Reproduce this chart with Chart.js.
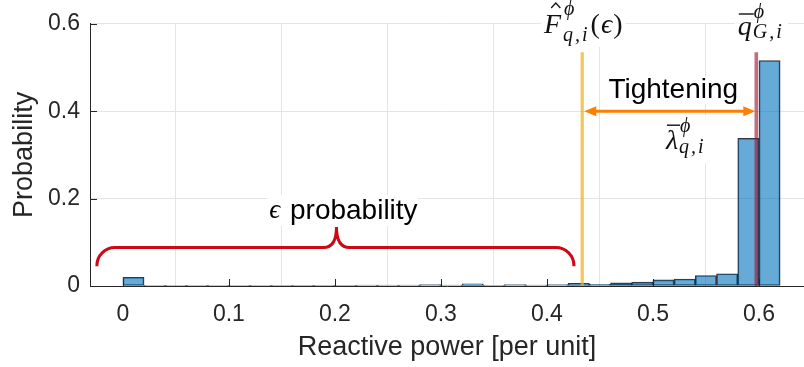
<!DOCTYPE html>
<html>
<head>
<meta charset="utf-8">
<title>Reactive power histogram</title>
<script src="https://cdn.jsdelivr.net/npm/chart.js@4.4.0/dist/chart.umd.min.js"></script>
<style>
  html, body { margin: 0; padding: 0; background: #fff; }
  #wrap { width: 804px; height: 367px; }
</style>
</head>
<body>
<div id="wrap"><canvas id="histChart" width="804" height="367"></canvas></div>
<script>
// histogram bins (centre of each 0.02 wide bin) and their probabilities
var binCenters = [0.01, 0.03, 0.05, 0.07, 0.09, 0.11, 0.13, 0.15, 0.17, 0.19,
                  0.21, 0.23, 0.25, 0.27, 0.29, 0.31, 0.33, 0.35, 0.37, 0.39,
                  0.41, 0.43, 0.45, 0.47, 0.49, 0.51, 0.53, 0.55, 0.57, 0.59, 0.61];
var probabilities = [0.020, 0.0005, 0.0005, 0.0005, 0.0005, 0.0005, 0.0005, 0.001, 0.001, 0.001,
                     0.001, 0.002, 0.002, 0.002, 0.003, 0.002, 0.005, 0.001, 0.003, 0.002,
                     0.003, 0.006, 0.004, 0.007, 0.009, 0.014, 0.016, 0.024, 0.028, 0.338, 0.516];

var xTicks = [0, 0.1, 0.2, 0.3, 0.4, 0.5, 0.6];
var yTicks = [0, 0.2, 0.4, 0.6];

// annotation values (data units)
var quantileValue = 0.4333;   // F hat (epsilon)
var limitValue = 0.5975;      // q bar
var markerTop = 0.535;
var arrowLevel = 0.4;
var braceStart = -0.0245;
var braceEnd = 0.4255;
var braceMid = 0.2015;
var braceLevel = 0.088;
var braceFoot = 0.045;
var braceTip = 0.135;

var SANS = '"Liberation Sans", Arial, Helvetica, sans-serif';
var SERIF = '"Liberation Serif", "DejaVu Serif", serif';
var axisColor = '#262626';

function mathFont(p) {
  return (p.italic ? 'italic ' : '') + p.size + 'px ' + SERIF;
}

// draws a small formula made of pieces, centred on cx
function drawMath(ctx, cx, baseY, parts) {
  var total = 0;
  parts.forEach(function (p) {
    if (p.sup !== undefined) {
      ctx.font = 'italic ' + p.size + 'px ' + SERIF;
      ctx.letterSpacing = '2px';
      p.w = Math.max(ctx.measureText(p.sup).width, ctx.measureText(p.sub).width) + 1;
      ctx.letterSpacing = '0px';
    } else {
      ctx.font = mathFont(p);
      p.w = ctx.measureText(p.t).width + (p.pad || 0);
    }
    total += p.w;
  });
  var x = cx - total / 2;
  ctx.fillStyle = '#fff';
  ctx.fillRect(x - 3, baseY - 34, total + 6, 48);
  ctx.fillStyle = '#111';
  ctx.strokeStyle = '#111';
  ctx.textBaseline = 'alphabetic';
  ctx.textAlign = 'left';
  parts.forEach(function (p) {
    if (p.sup !== undefined) {
      ctx.font = 'italic ' + p.size + 'px ' + SERIF;
      ctx.letterSpacing = '2px';
      ctx.fillText(p.sup, x + 1, baseY + p.supDy);
      ctx.fillText(p.sub, x, baseY + p.subDy);
      ctx.letterSpacing = '0px';
    } else {
      ctx.font = mathFont(p);
      ctx.fillText(p.t, x, baseY);
      if (p.accent === 'hat') {
        ctx.lineWidth = 1.3;
        ctx.beginPath();
        ctx.moveTo(x + p.w * 0.38, baseY - 25);
        ctx.lineTo(x + p.w * 0.62, baseY - 30);
        ctx.lineTo(x + p.w * 0.86, baseY - 25);
        ctx.stroke();
      } else if (p.accent === 'bar') {
        ctx.lineWidth = 1.4;
        ctx.beginPath();
        ctx.moveTo(x + 1, baseY - p.barUp);
        ctx.lineTo(x + p.w + 1, baseY - p.barUp);
        ctx.stroke();
      }
    }
    x += p.w;
  });
}

var annotationPlugin = {
  id: 'annotations',
  afterDatasetsDraw: function (chart) {
    var ctx = chart.ctx;
    var xs = chart.scales.x;
    var ys = chart.scales.y;
    var area = chart.chartArea;
    ctx.save();

    // inward ticks (matlab style)
    ctx.strokeStyle = axisColor;
    ctx.lineWidth = 1;
    yTicks.forEach(function (v) {
      var py = Math.round(ys.getPixelForValue(v)) + 0.5;
      ctx.beginPath();
      ctx.moveTo(area.left, py);
      ctx.lineTo(area.left + 7, py);
      ctx.stroke();
    });
    xTicks.forEach(function (v) {
      var px = Math.round(xs.getPixelForValue(v)) + 0.5;
      ctx.beginPath();
      ctx.moveTo(px, area.bottom);
      ctx.lineTo(px, area.bottom - 7);
      ctx.stroke();
    });

    var xq = xs.getPixelForValue(quantileValue);
    var xl = xs.getPixelForValue(limitValue);
    var yTop = ys.getPixelForValue(markerTop);
    var y0 = ys.getPixelForValue(0);

    // vertical markers
    ctx.lineWidth = 3.3;
    ctx.strokeStyle = 'rgba(237,177,32,0.72)';
    ctx.beginPath();
    ctx.moveTo(xq, yTop);
    ctx.lineTo(xq, y0);
    ctx.stroke();
    ctx.lineWidth = 3.6;
    ctx.strokeStyle = 'rgba(162,20,47,0.62)';
    ctx.beginPath();
    ctx.moveTo(xl, yTop);
    ctx.lineTo(xl, y0);
    ctx.stroke();

    // double arrow "Tightening"
    var ya = ys.getPixelForValue(arrowLevel);
    var head = 12, half = 5;
    ctx.strokeStyle = '#ff8000';
    ctx.fillStyle = '#ff8000';
    ctx.lineWidth = 3;
    ctx.beginPath();
    ctx.moveTo(xq + head, ya);
    ctx.lineTo(xl - head + 1, ya);
    ctx.stroke();
    ctx.beginPath();
    ctx.moveTo(xq + 2, ya);
    ctx.lineTo(xq + 2 + head, ya - half);
    ctx.lineTo(xq + 2 + head, ya + half);
    ctx.closePath();
    ctx.fill();
    ctx.beginPath();
    ctx.moveTo(xl - 1, ya);
    ctx.lineTo(xl - 1 - head, ya - half);
    ctx.lineTo(xl - 1 - head, ya + half);
    ctx.closePath();
    ctx.fill();

    // brace under "epsilon probability"
    var bx0 = xs.getPixelForValue(braceStart);
    var bx1 = xs.getPixelForValue(braceEnd);
    var bxm = xs.getPixelForValue(braceMid);
    var by = ys.getPixelForValue(braceLevel);
    var bf = ys.getPixelForValue(braceFoot);
    var bt = ys.getPixelForValue(braceTip);
    var r = 18;
    ctx.strokeStyle = '#cc0a14';
    ctx.lineWidth = 3;
    ctx.beginPath();
    ctx.moveTo(bx0, bf);
    ctx.arcTo(bx0, by, bx0 + r, by, r);
    ctx.lineTo(bxm - 13, by);
    ctx.bezierCurveTo(bxm - 4, by, bxm, by - 8, bxm, bt);
    ctx.bezierCurveTo(bxm, by - 8, bxm + 4, by, bxm + 13, by);
    ctx.lineTo(bx1 - r, by);
    ctx.arcTo(bx1, by, bx1, bf, r);
    ctx.lineTo(bx1, bf);
    ctx.stroke();

    // text labels with white boxes
    ctx.textAlign = 'center';
    ctx.textBaseline = 'alphabetic';
    ctx.font = '28px ' + SANS;
    var tx = (xq + xl) / 2 + 4;
    var tw = ctx.measureText('Tightening').width;
    ctx.fillStyle = '#fff';
    ctx.fillRect(tx - tw / 2 - 2, ya - 35, tw + 4, 28);
    ctx.fillStyle = '#000';
    ctx.fillText('Tightening', tx, ya - 13);

    // epsilon probability
    ctx.textAlign = 'left';
    ctx.font = '28px ' + SANS;
    var pw = ctx.measureText(' probability').width;
    ctx.font = 'italic 27px ' + SERIF;
    var ew = ctx.measureText('\u03f5').width;
    var sx = bxm + 6 - (pw + ew) / 2;
    var sy = bt - 8;
    ctx.fillStyle = '#fff';
    ctx.fillRect(sx - 2, sy - 24, pw + ew + 4, 31);
    ctx.fillStyle = '#000';
    ctx.fillText('\u03f5', sx, sy - 1);
    ctx.font = '28px ' + SANS;
    ctx.fillText(' probability', sx + ew + 2, sy);

    // F hat label over the yellow line
    drawMath(ctx, xq + 1, 33, [
      {t: 'F', size: 28, italic: true, accent: 'hat', pad: 2},
      {sup: '\u03d5', sub: 'q,i', size: 20, supDy: -18, subDy: 8},
      {t: '(', size: 28, pad: 1},
      {t: '\u03f5', size: 28, italic: true, pad: 1},
      {t: ')', size: 28}
    ]);
    // q bar label over the red line
    drawMath(ctx, xl + 5, 35, [
      {t: 'q', size: 28, italic: true, accent: 'bar', barUp: 21, pad: 1},
      {sup: '\u03d5', sub: 'G,i', size: 20, supDy: -17, subDy: 3}
    ]);
    // lambda bar label below the arrow
    drawMath(ctx, (xq + xl) / 2 + 17, ya + 38, [
      {t: '\u03bb', size: 28, italic: true, accent: 'bar', barUp: 24, pad: 1},
      {sup: '\u03d5', sub: 'q,i', size: 20, supDy: -17, subDy: 4}
    ]);

    ctx.restore();
  }
};

var histCanvas = document.getElementById('histChart');
var histConfig = {
  type: 'bar',
  data: {
    datasets: [{
      label: 'Probability',
      data: binCenters.map(function (c, i) { return {x: c, y: probabilities[i]}; }),
      backgroundColor: 'rgba(0,114,189,0.6)',
      borderColor: 'rgba(15,20,30,0.85)',
      borderWidth: 1,
      borderSkipped: false,
      barPercentage: 1,
      categoryPercentage: 1,
      grouped: false
    }]
  },
  options: {
    responsive: false,
    animation: false,
    devicePixelRatio: 1,
    layout: { padding: { top: 19, right: 0, bottom: 0, left: 0 } },
    plugins: {
      legend: { display: false },
      tooltip: { enabled: false }
    },
    scales: {
      x: {
        type: 'linear',
        min: -0.031,
        max: 0.6425,
        offset: false,
        afterBuildTicks: function (s) { s.ticks = xTicks.map(function (v) { return {value: v}; }); },
        afterFit: function (s) { s.height = 81; },
        grid: { color: '#e4e4e4', drawTicks: false },
        border: { color: axisColor, width: 1 },
        ticks: {
          color: axisColor,
          font: { family: SANS, size: 23 },
          padding: 15,
          maxRotation: 0,
          autoSkip: false,
          callback: function (v) { return String(v); }
        },
        title: {
          display: true,
          text: 'Reactive power [per unit]',
          color: axisColor,
          font: { family: SANS, size: 27 },
          padding: { top: 0, bottom: 3 }
        }
      },
      y: {
        min: 0,
        max: 0.6,
        afterBuildTicks: function (s) { s.ticks = yTicks.map(function (v) { return {value: v}; }); },
        afterFit: function (s) { s.width = 90; },
        grid: { color: '#e4e4e4', drawTicks: false },
        border: { color: axisColor, width: 1 },
        ticks: {
          color: axisColor,
          font: { family: SANS, size: 23 },
          padding: 10,
          callback: function (v) { return String(v); }
        },
        title: {
          display: true,
          text: 'Probability',
          color: axisColor,
          font: { family: SANS, size: 27 },
          padding: { top: 8, bottom: 0 }
        }
      }
    }
  },
  plugins: [annotationPlugin]
};
var histChartObj = new Chart(histCanvas, histConfig);
</script>
</body>
</html>
